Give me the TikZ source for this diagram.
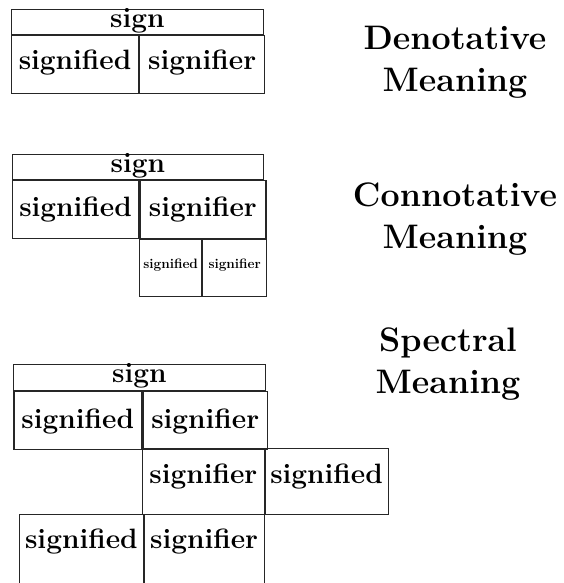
\documentclass[tikz,border=0pt]{standalone}
\usetikzlibrary{positioning}
\tikzset{
  cell/.style={draw=black!85, line width=0.7pt, inner sep=0pt, anchor=north west,
    text depth=0pt, font=\bfseries\fontsize{28}{32}\selectfont},
  boldcell/.style={cell, line width=1.5pt},
  smallcell/.style={cell, font=\bfseries\fontsize{13.6}{16}\selectfont},
  meaninglab/.style={align=center, anchor=north, inner sep=0pt,
    font=\bfseries\fontsize{34}{42}\selectfont},
}

\begin{document}
\begin{tikzpicture}[x=1pt, y=-1pt]
\clip (0,0) rectangle (563,583);
% denotative meaning
\node[cell, minimum width=252pt, minimum height=24.5pt, text height=10.5pt] (dsign) at (11,9.5) {sign};
\node[cell, line width=1.1pt, minimum width=127pt, minimum height=58pt, text height=10pt] (dsd) at (dsign.south west) {signified};
\node[cell, line width=1.1pt, minimum width=125pt, minimum height=58pt, text height=10pt] (dsr) at (dsd.north east) {signifier};
\node[meaninglab] (dlab) at (455,26) {Denotative\\Meaning};
% connotative meaning
\node[cell, minimum width=251pt, minimum height=25pt, text height=10.4pt] (csign) at (12,154) {sign};
\node[cell, line width=1.1pt, minimum width=126pt, minimum height=58pt, text height=14pt] (csd) at (csign.south west) {signified};
\node[boldcell, minimum width=126pt, minimum height=58pt, text height=14pt] (csr) at (csd.north east) {signifier};
\node[smallcell, line width=1.1pt, minimum width=62pt, minimum height=57pt, text height=1pt] (csd2) at (csr.south west) {signified};
\node[smallcell, line width=1.1pt, minimum width=64pt, minimum height=57pt, text height=1pt] (csr2) at (csd2.north east) {signifier};
\node[meaninglab] (clab) at (455,183) {Connotative\\Meaning};
% spectral meaning
\node[cell, minimum width=252pt, minimum height=26pt, text height=9.4pt] (ssign) at (13,364) {sign};
\node[boldcell, minimum width=128pt, minimum height=58pt, text height=16pt] (ssd) at (ssign.south west) {signified};
\node[boldcell, minimum width=124pt, minimum height=58pt, text height=16pt] (ssr) at (ssd.north east) {signifier};
\node[cell, minimum width=122pt, minimum height=66pt, text height=4pt] (ssr2) at (142,448) {signifier};
\node[cell, minimum width=123pt, minimum height=66pt, text height=4pt] (ssd2) at (ssr2.north east) {signified};
\node[cell, minimum width=124pt, minimum height=72pt, text height=0pt, text depth=4pt] (ssd3) at (19,514) {signified};
\node[cell, minimum width=120pt, minimum height=72pt, text height=0pt, text depth=4pt] (ssr3) at (ssd3.north east) {signifier};
\node[meaninglab] (slab) at (448,328) {Spectral\\Meaning};
\end{tikzpicture}
\end{document}
